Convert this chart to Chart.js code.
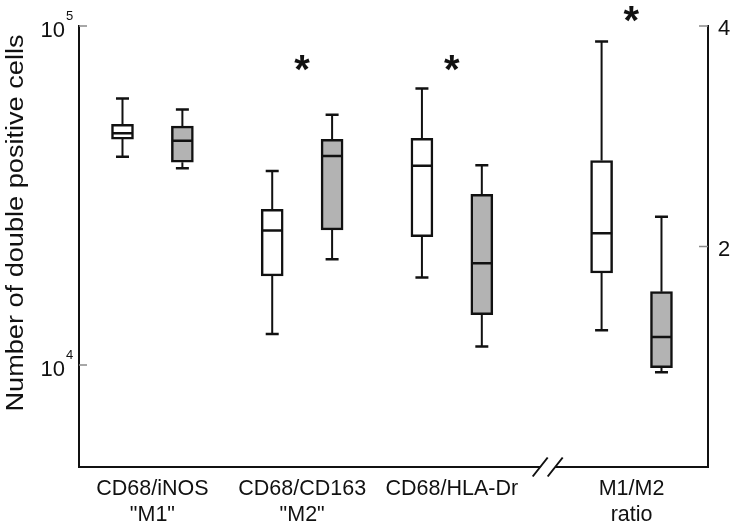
<!DOCTYPE html>
<html><head><meta charset="utf-8">
<script src="https://cdn.jsdelivr.net/npm/chart.js@4/dist/chart.umd.min.js"></script>
<style>html,body{margin:0;padding:0;background:#fff;}#wrap{width:733px;height:525px;position:relative;}</style>
</head><body><div id="wrap"><canvas id="c"></canvas></div>
<script>
// ---- data ----
const categories = [['CD68/iNOS', '"M1"'], ['CD68/CD163', '"M2"'], ['CD68/HLA-Dr'], ['M1/M2', 'ratio']];
// open (white) boxes
const openMin    = [41160, 12340, 18120, 1.24];
const openQ1     = [46390, 18320, 23910, 1.76];
const openMedian = [48230, 24910, 38700, 2.12];
const openQ3     = [51260, 28800, 46600, 2.78];
const openMax    = [61100, 37340, 65420, 3.86];
// filled (grey) boxes
const filledMin    = [38040, 20520, 11340, 0.86];
const filledQ1     = [39620, 25030, 14070, 0.90];
const filledMedian = [45850, 41340, 19970, 1.18];
const filledQ3     = [50670, 46300, 31880, 1.59];
const filledMax    = [56740, 54700, 38810, 2.27];
// significance markers
const significance = ['', '*', '*', '*'];
const starLevel = [null, 77600, 77600, 4.11];
// tick labels
const leftTicks = [10000, 100000];
const rightTicks = [2, 4];
const yTitle = 'Number of double positive cells';

// ---- layout ----
const categoryAxis = ['y', 'y', 'y', 'y2'];
const catPos = [0, 1, 2, 3.2];
const boxOffset = 0.2;
const breakAt = 2.64;
const INK = '#111';
const GREY = '#b3b3b3';
const FONT = "'Liberation Sans', Arial, sans-serif";

function boxes(q1, q3, sign, axis) {
  const out = [];
  categories.forEach((c, i) => {
    if (categoryAxis[i] === axis) out.push({ x: catPos[i] + sign * boxOffset, y: [q1[i], q3[i]] });
  });
  return out;
}
const barCommon = { borderColor: INK, borderWidth: 2.5, borderSkipped: false, grouped: false,
  maxBarThickness: 22, barPercentage: 1, categoryPercentage: 1 };

const groups = [
  { min: openMin, q1: openQ1, med: openMedian, q3: openQ3, max: openMax, sign: -1 },
  { min: filledMin, q1: filledQ1, med: filledMedian, q3: filledQ3, max: filledMax, sign: 1 }
];

const boxPlugin = {
  id: 'boxParts',
  afterDatasetsDraw(chart) {
    const ctx = chart.ctx, xs = chart.scales.x;
    ctx.save();
    ctx.strokeStyle = INK;
    ctx.lineCap = 'butt';
    groups.forEach(g => {
      categories.forEach((c, i) => {
        const ys = chart.scales[categoryAxis[i]];
        const x = xs.getPixelForValue(catPos[i] + g.sign * boxOffset);
        const pMin = ys.getPixelForValue(g.min[i]), pQ1 = ys.getPixelForValue(g.q1[i]);
        const pMed = ys.getPixelForValue(g.med[i]), pQ3 = ys.getPixelForValue(g.q3[i]);
        const pMax = ys.getPixelForValue(g.max[i]);
        ctx.lineWidth = 2;
        ctx.beginPath();
        ctx.moveTo(x, pQ3); ctx.lineTo(x, pMax);
        ctx.moveTo(x, pQ1); ctx.lineTo(x, pMin);
        ctx.stroke();
        ctx.lineWidth = 2.5;
        ctx.beginPath();
        ctx.moveTo(x - 6.5, pMax); ctx.lineTo(x + 6.5, pMax);
        ctx.moveTo(x - 6.5, pMin); ctx.lineTo(x + 6.5, pMin);
        ctx.moveTo(x - 10.5, pMed); ctx.lineTo(x + 10.5, pMed);
        ctx.stroke();
      });
    });
    ctx.restore();
  },
  afterDraw(chart) {
    const ctx = chart.ctx, xs = chart.scales.x, y = chart.scales.y, y2 = chart.scales.y2;
    const area = chart.chartArea;
    ctx.save();
    // inward tick marks
    ctx.strokeStyle = '#8a8a8a';
    ctx.lineWidth = 1.5;
    ctx.beginPath();
    leftTicks.forEach(v => { const p = y.getPixelForValue(v); ctx.moveTo(area.left, p); ctx.lineTo(area.left + 8, p); });
    rightTicks.forEach(v => { const p = y2.getPixelForValue(v); ctx.moveTo(area.right - 9, p); ctx.lineTo(area.right, p); });
    ctx.stroke();
    // left tick labels 10^n
    ctx.fillStyle = INK;
    leftTicks.forEach(v => {
      const p = y.getPixelForValue(v);
      const exp = String(Math.round(Math.log10(v)));
      ctx.font = '22px ' + FONT;
      ctx.textAlign = 'right'; ctx.textBaseline = 'alphabetic';
      ctx.fillText('10', 65, p + 11);
      ctx.font = '13px ' + FONT;
      ctx.textAlign = 'left';
      ctx.fillText(exp, 66, p - 6);
    });
    // y-axis title
    ctx.save();
    ctx.translate(23, 223);
    ctx.rotate(-Math.PI / 2);
    ctx.font = '23px ' + FONT;
    const w = ctx.measureText(yTitle).width;
    ctx.scale(377 / w, 1);
    ctx.textAlign = 'center'; ctx.textBaseline = 'alphabetic';
    ctx.fillText(yTitle, 0, 0);
    ctx.restore();
    // axis break
    const bx = xs.getPixelForValue(breakAt), by = area.bottom;
    ctx.fillStyle = '#fff';
    ctx.fillRect(bx - 7.5, by - 3, 15, 6);
    ctx.strokeStyle = INK; ctx.lineWidth = 2;
    ctx.beginPath();
    [-7.5, 7.5].forEach(d => { ctx.moveTo(bx + d - 7.5, by + 9.5); ctx.lineTo(bx + d + 7.5, by - 9.5); });
    ctx.stroke();
    // significance stars
    ctx.fillStyle = INK;
    categories.forEach((c, i) => {
      if (!significance[i]) return;
      const ys = chart.scales[categoryAxis[i]];
      const sx = xs.getPixelForValue(catPos[i]);
      const sy = ys.getPixelForValue(starLevel[i]);
      ctx.font = 'bold 40px ' + FONT;
      let m = ctx.measureText(significance[i]);
      const size = 40 * 16 / (m.actualBoundingBoxLeft + m.actualBoundingBoxRight);
      ctx.font = 'bold ' + size.toFixed(1) + 'px ' + FONT;
      m = ctx.measureText(significance[i]);
      ctx.textAlign = 'left'; ctx.textBaseline = 'alphabetic';
      const inkW = m.actualBoundingBoxLeft + m.actualBoundingBoxRight;
      const inkH = m.actualBoundingBoxAscent + m.actualBoundingBoxDescent;
      ctx.fillText(significance[i], sx - inkW / 2 + m.actualBoundingBoxLeft, sy + inkH / 2 - m.actualBoundingBoxDescent);
    });
    ctx.restore();
  }
};

Chart.defaults.font.family = FONT;
Chart.defaults.color = INK;

new Chart(document.getElementById('c'), {
  type: 'bar',
  data: {
    datasets: [
      Object.assign({ data: boxes(openQ1, openQ3, -1, 'y'), yAxisID: 'y', backgroundColor: '#fff' }, barCommon),
      Object.assign({ data: boxes(filledQ1, filledQ3, 1, 'y'), yAxisID: 'y', backgroundColor: GREY }, barCommon),
      Object.assign({ data: boxes(openQ1, openQ3, -1, 'y2'), yAxisID: 'y2', backgroundColor: '#fff' }, barCommon),
      Object.assign({ data: boxes(filledQ1, filledQ3, 1, 'y2'), yAxisID: 'y2', backgroundColor: GREY }, barCommon)
    ]
  },
  options: {
    responsive: true, maintainAspectRatio: false, animation: false, devicePixelRatio: 1,
    layout: { padding: { top: 26, left: 0, right: 0, bottom: 0 } },
    plugins: { legend: { display: false }, tooltip: { enabled: false }, title: { display: false } },
    scales: {
      x: {
        type: 'linear', offset: false, min: -0.4905, max: 3.7107,
        afterBuildTicks: s => { s.ticks = catPos.map(v => ({ value: v })); },
        afterFit: s => { s.height = 58; },
        ticks: { autoSkip: false, maxRotation: 0, minRotation: 0, padding: 9,
          font: { size: 21.5 }, color: INK, callback: (v, i) => categories[i] },
        grid: { display: false, drawTicks: false },
        border: { display: true, color: INK, width: 2 }
      },
      y: {
        type: 'logarithmic', position: 'left', min: 5000, max: 100000, offset: false,
        afterBuildTicks: s => { s.ticks = leftTicks.map(v => ({ value: v })); },
        afterFit: s => { s.width = 79; },
        ticks: { display: false },
        grid: { display: false, drawTicks: false },
        border: { display: true, color: INK, width: 2 }
      },
      y2: {
        type: 'linear', position: 'right', min: 0, max: 4, offset: false,
        afterBuildTicks: s => { s.ticks = rightTicks.map(v => ({ value: v })); },
        afterFit: s => { s.width = 25; },
        ticks: { padding: 10, labelOffset: 3, font: { size: 22 }, color: INK, callback: v => String(v) },
        grid: { display: false, drawTicks: false },
        border: { display: true, color: INK, width: 2 }
      }
    }
  },
  plugins: [boxPlugin]
});
</script></body></html>
